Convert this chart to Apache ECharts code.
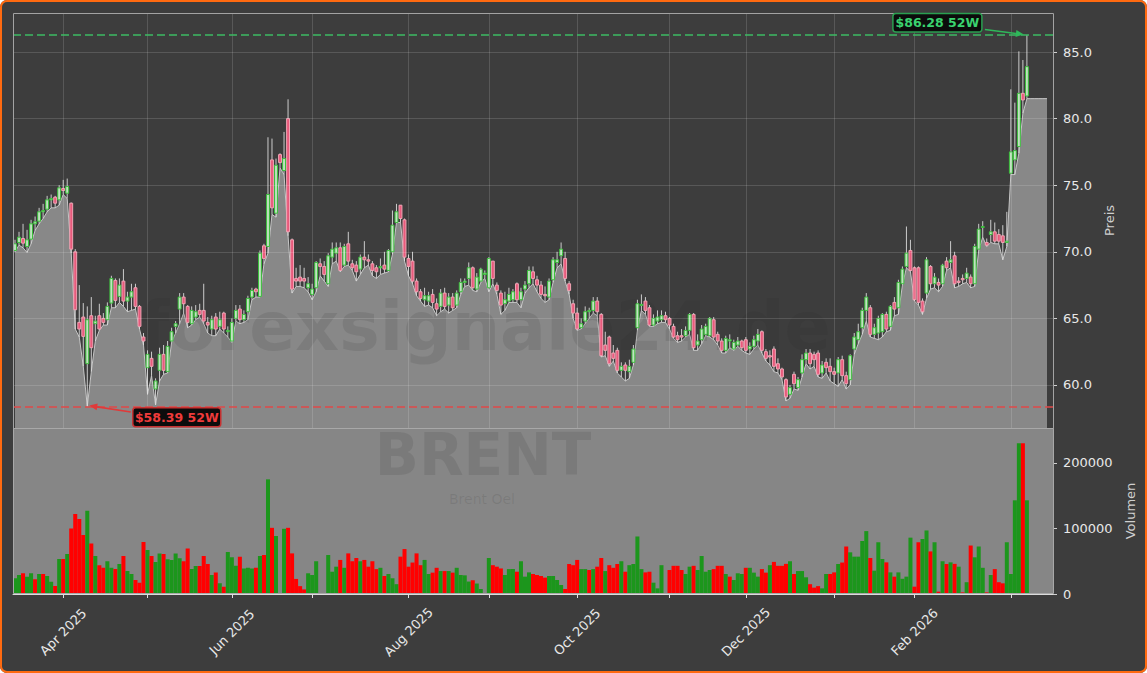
<!DOCTYPE html>
<html>
<head>
<meta charset="utf-8">
<script src="https://cdn.jsdelivr.net/npm/echarts@6/dist/echarts.min.js"></script>
<style>
html,body{margin:0;padding:0;background:#ffffff;}
#wrap{position:relative;width:1147px;height:673px;}
#chart{position:absolute;left:0;top:0;width:1147px;height:673px;background:#3d3d3d;border-radius:7px;overflow:hidden;}
#frame{position:absolute;left:0;top:0;width:1147px;height:673px;box-sizing:border-box;border:2.5px solid #ff6a10;border-radius:7px;pointer-events:none;}
</style>
</head>
<body>
<div id="wrap"><div id="chart"></div><div id="frame"></div></div>
<script>
// ---------------- data ----------------
const opens = [
70.1,70.7,71.0,70.4,70.95,72.1,72.3,73.0,73.2,73.9,
74.1,73.9,74.75,74.4,73.65,70.0,64.7,65.1,61.6,65.2,
64.6,65.2,65.0,64.9,66.15,67.85,66.65,67.8,66.3,66.6,
67.3,65.9,63.6,61.3,62.0,59.7,61.1,62.3,61.0,63.3,
64.4,65.7,66.6,65.9,64.6,65.1,65.6,65.6,64.7,64.2,
65.1,64.4,65.4,64.0,63.3,65.0,65.7,64.9,65.5,66.6,
67.2,66.65,70.45,70.4,76.9,72.9,77.3,76.1,80.0,70.9,
68.0,68.1,68.0,67.3,66.8,67.3,69.1,68.9,67.6,69.6,
69.9,70.3,69.0,70.6,69.1,69.0,68.7,69.6,69.4,69.1,
68.8,68.8,69.0,68.6,70.0,72.2,73.5,72.4,69.5,69.3,
67.8,67.0,66.4,66.3,66.8,66.1,65.9,66.9,66.0,66.6,
66.0,67.0,67.7,68.0,68.8,67.2,67.8,68.3,67.3,69.3,
67.5,66.9,66.1,66.3,66.4,67.6,66.4,67.2,67.6,68.5,
67.9,67.5,66.8,66.6,67.9,69.2,69.7,69.5,67.6,66.1,
65.4,64.3,64.8,65.5,65.6,66.3,65.3,63.0,63.6,62.4,
62.6,61.1,61.5,61.0,61.7,64.3,66.0,66.3,65.8,64.5,
64.8,64.9,65.2,65.0,64.4,63.7,63.7,63.7,64.1,65.3,
63.0,63.4,63.8,63.7,64.9,63.8,63.3,62.6,63.3,62.7,
63.0,63.3,63.4,62.7,62.9,63.3,64.0,62.5,62.2,62.7,
61.6,61.2,60.4,59.3,60.8,59.8,60.9,61.9,62.4,62.3,
62.4,60.9,61.7,61.4,61.0,60.9,61.9,60.7,60.4,62.7,
63.4,64.3,65.6,65.8,63.8,63.9,64.0,65.3,64.4,66.2,
65.8,67.6,68.9,70.1,68.8,68.8,66.3,66.9,68.9,67.6,
67.7,67.6,69.3,69.2,69.7,67.8,68.0,68.0,68.1,67.6,
70.2,71.9,70.7,71.3,71.5,71.3,71.2,70.7,75.9,76.9,
77.9,81.9,81.7
];
const closes = [
70.6,71.1,70.65,70.9,72.1,72.25,73.0,73.1,73.9,74.0,
73.65,74.8,74.6,74.9,70.2,65.65,64.2,63.65,64.9,62.8,
64.8,64.2,64.7,65.9,68.0,66.35,67.5,66.3,66.6,67.0,
65.9,64.4,63.3,62.3,61.4,60.3,62.3,61.1,62.9,64.0,
64.6,66.6,66.1,64.7,65.6,65.5,65.3,64.8,64.5,64.9,
64.2,64.9,64.2,64.1,64.7,65.6,64.9,65.3,66.5,67.1,
67.0,69.9,69.5,74.3,73.3,76.5,76.7,77.0,71.5,67.2,
67.8,67.8,67.8,67.6,67.2,69.2,68.9,68.3,69.7,70.2,
70.3,68.6,70.4,69.3,68.8,68.5,69.6,69.4,69.3,68.6,
68.5,68.9,68.7,70.1,72.0,73.0,72.5,69.6,68.9,67.8,
67.0,66.5,66.7,66.7,66.2,65.7,66.9,65.9,66.6,65.8,
66.9,67.7,67.8,68.8,67.3,68.1,68.7,68.4,69.5,68.0,
67.1,66.0,66.4,66.8,67.0,66.4,67.0,67.5,68.6,68.0,
67.5,66.8,66.7,67.8,69.4,69.4,70.2,68.0,67.1,65.4,
64.2,64.6,65.5,65.6,66.3,65.5,62.2,62.6,61.6,62.0,
61.1,61.4,61.1,61.4,62.7,66.1,66.05,65.6,64.5,65.0,
65.1,65.2,64.9,64.5,63.6,63.4,63.6,64.1,65.3,62.8,
63.3,64.2,64.4,65.0,63.6,63.3,62.6,63.5,63.4,63.2,
63.3,62.8,62.6,62.9,63.4,63.8,62.6,62.0,62.1,61.4,
61.2,60.6,59.1,59.8,60.1,60.4,61.9,62.4,61.6,61.9,
60.8,61.5,61.3,61.0,60.8,61.9,60.7,60.1,62.2,63.6,
64.0,65.6,66.6,63.8,64.3,65.0,65.3,64.2,65.9,65.7,
67.7,68.7,69.9,68.6,66.4,66.2,65.5,69.4,67.6,68.1,
67.5,69.0,68.8,69.4,67.6,67.7,67.9,68.4,67.6,70.4,
71.7,71.9,70.5,71.5,70.8,70.8,70.7,70.8,77.5,77.6,
81.9,81.4,83.9
];
const lows = [
70.0,70.5,70.3,69.95,70.6,71.6,72.1,72.5,73.0,73.3,
73.3,73.5,74.3,74.0,69.9,64.2,63.6,61.4,58.39,61.0,
63.3,64.1,64.5,64.5,65.8,65.8,66.2,65.9,65.5,65.6,
65.7,64.2,63.0,59.3,60.7,58.5,60.3,60.8,60.9,63.2,
63.9,64.6,65.4,64.3,64.5,64.9,65.1,64.6,63.9,63.7,
63.7,64.2,63.9,63.6,63.2,64.8,64.6,64.7,64.9,66.4,
66.6,66.6,69.1,69.9,72.8,72.6,76.3,75.8,71.2,66.9,
67.4,67.4,67.3,67.0,66.4,67.0,68.2,67.8,67.4,69.1,
69.3,68.5,68.9,69.0,68.6,67.8,68.3,68.8,69.0,68.2,
68.0,68.3,68.4,68.5,69.8,72.2,72.2,69.3,68.2,67.6,
66.7,66.3,65.9,66.0,65.8,65.2,65.5,65.7,65.4,65.6,
65.8,66.8,67.4,67.5,67.1,67.0,67.7,68.0,67.0,67.6,
66.8,65.3,65.6,66.2,66.2,66.2,65.8,66.9,67.3,67.6,
67.0,66.5,66.2,66.4,67.7,68.8,69.1,67.8,66.8,65.0,
64.1,64.2,64.6,65.0,65.4,65.2,62.1,62.2,61.4,61.8,
60.9,60.6,60.3,60.5,61.5,64.1,65.6,65.3,64.4,64.4,
64.6,64.7,64.7,64.2,63.5,63.2,63.3,63.6,63.8,62.6,
62.6,63.1,63.7,63.6,63.4,63.0,62.4,62.4,62.8,62.6,
62.9,62.6,62.4,62.3,62.7,63.0,62.4,61.8,61.5,61.0,
60.9,60.4,58.8,59.0,59.7,59.6,60.6,61.6,61.2,61.4,
60.6,60.5,60.9,60.3,60.1,59.9,60.4,59.7,60.0,62.3,
63.1,63.8,64.8,63.6,63.5,63.4,63.6,64.0,64.1,65.2,
65.3,67.5,68.8,68.5,66.3,66.0,65.3,66.5,67.2,67.3,
67.0,67.4,68.6,68.8,67.3,67.4,67.6,67.7,67.3,67.4,
70.1,71.1,70.4,70.7,70.6,70.6,69.4,70.4,75.8,75.8,
77.4,80.4,81.5
];
const highs = [
70.9,71.5,72.1,71.65,72.4,72.65,73.3,73.6,74.2,74.3,
74.2,75.0,75.4,75.5,73.7,70.2,67.5,66.15,65.9,66.6,
65.2,66.1,65.4,66.2,68.2,68.0,68.0,68.7,67.0,67.6,
67.6,66.0,63.9,62.6,62.5,60.5,62.8,63.0,63.3,64.3,
64.8,66.9,66.9,66.0,65.9,66.0,66.1,67.6,65.1,65.2,
65.4,65.5,65.5,64.4,65.0,66.0,66.0,65.6,66.7,67.3,
67.3,70.1,70.6,78.6,78.5,77.0,77.4,79.0,81.45,71.0,
68.8,69.0,68.8,68.1,67.6,69.3,69.5,69.3,69.9,70.7,
70.7,70.7,70.6,71.5,69.4,69.3,69.8,70.8,69.8,69.3,
69.0,69.5,70.0,70.2,73.1,73.6,73.5,72.5,69.8,70.0,
68.0,67.2,67.3,67.0,67.2,66.5,67.2,67.3,66.9,66.9,
67.1,68.0,68.0,69.2,68.9,68.4,68.8,68.6,69.6,69.3,
67.7,67.1,67.0,67.3,67.2,67.7,67.3,67.8,68.9,68.9,
68.2,67.8,67.4,68.0,69.6,70.0,70.7,70.0,67.8,66.4,
65.8,65.0,65.9,65.8,66.6,66.6,65.4,64.0,63.7,63.0,
62.8,61.7,61.7,61.9,63.0,66.4,66.8,66.6,66.0,65.3,
65.6,65.6,65.5,65.1,64.6,64.0,64.2,64.4,65.4,65.4,
63.8,64.5,64.6,65.1,65.1,64.0,63.5,63.7,63.8,63.4,
63.6,63.4,63.6,63.2,63.7,64.2,64.1,62.7,62.6,62.9,
62.0,61.3,60.5,60.0,61.0,60.6,62.3,62.7,62.7,62.5,
62.6,61.8,62.0,62.0,61.3,62.1,62.2,61.0,62.3,63.9,
64.6,65.8,66.9,66.0,64.6,65.2,65.4,65.5,66.0,66.6,
67.9,68.9,71.9,70.9,68.9,68.9,66.5,69.6,69.0,68.4,
68.0,69.1,69.6,70.8,70.0,68.1,68.3,68.8,68.3,70.6,
72.1,72.3,71.0,72.4,72.2,71.7,72.0,73.0,82.2,81.2,
85.05,84.4,86.28
];
// flat part of the low-price fill that continues after the last candle
const fillTail = [81.5,81.5,81.5,81.5,81.5];
const volumes = [
24000,29000,31600,26500,31600,22400,30500,30500,27500,18800,
12200,53400,53400,61000,100000,122000,114500,90000,127000,77000,
58000,44000,40000,50000,40000,38000,45800,58000,35000,30500,
21400,17300,79400,67000,58000,48800,62000,61000,53000,52000,
62000,54500,50000,69600,38000,42700,42700,58000,45800,29000,
33000,16300,11200,64000,56000,43000,57000,39000,40000,39000,
40000,58000,59500,175000,101000,88500,0,99500,101000,62000,
23000,12000,7000,31600,29000,50000,0,0,59500,34000,
41700,52000,40000,62000,50000,55000,50000,52000,41700,50000,
38000,40000,27500,30500,24000,15000,57000,68600,41700,48000,
62000,44000,52000,30500,32600,40000,35000,35000,35000,32600,
40000,29000,28500,19000,21000,16000,7600,0,55000,44000,
41700,39000,29000,38000,38000,34000,50000,26500,33000,30500,
29000,27500,25000,27500,27500,21400,13700,7600,45800,44000,
52000,38000,38000,36600,38000,41700,55000,35000,44000,40000,
45800,50000,34000,44000,45800,87800,38000,33000,34000,17300,
8600,44000,0,36600,43000,43000,36600,30500,41700,43000,
36600,58000,34000,36600,38000,43000,43000,30500,26500,21400,
31600,30500,40000,40000,32600,26500,38000,32600,44000,49000,
43000,43000,46000,50000,30500,35000,35000,25500,15000,9700,
12000,8600,30500,30500,33000,45800,48000,72500,63600,57000,
57000,80900,96000,55000,35600,79000,53400,48300,33000,26500,
33000,23200,26500,86000,11200,79000,84000,97000,65000,79000,
3600,50000,45800,48300,46000,41700,2500,18000,74000,56000,
72500,40000,2500,29000,38000,18000,16300,79000,30500,143000,
230000,230000,143000
];
// g = up-day volume bar (green), r = down-day volume bar (red)
const volDirs =
"ggrggrgrgg" + "rgrgrrrrgr" + "grrggrgrgg" + "rrrgrggrgg" + "ggrrggrrrg" +
"rgrgggrggg" + "rgrgrgggrr" + "rrrggggggg" + "grgrrrgrrr" + "rgrgggrrrr" +
"rrggrrgrgr" + "ggggrggggr" + "rrgggrgggr" + "rrrggggrrr" + "rggrgrrgrr" +
"rgrggggrrg" + "gggrrrrggr" + "ggggrrrgrg" + "ggrgggrrgr" + "rrrgrgggrr" +
"rggrrgrrgg" + "gggrgggrgr" + "ggggrrggrg" + "rgrgrgrgrg" + "ggrgrrrggg" +
"grg";
const priceTicks = [60, 65, 70, 75, 80, 85];
const volumeTicks = [0, 100000, 200000];
const monthTickIdx = [12, 33, 54, 74, 98, 118, 140, 163, 182, 204, 224, 248];
const monthTickLabels = ['Apr 2025', '', 'Jun 2025', '', 'Aug 2025', '', 'Oct 2025', '', 'Dec 2025', '', 'Feb 2026', ''];
const high52 = 86.28, high52Idx = 252;
const low52 = 58.39, low52Idx = 18;
const priceMin = 56.77, priceMax = 87.93;
const volumeMax = 253400;
const N_CATS = 259;

// ---------------- chart ----------------
const cats = [];
for (let i = 0; i < N_CATS; i++) cats.push(String(i));
const tickSet = new Set(monthTickIdx);
const labelMap = {};
monthTickIdx.forEach((idx, k) => { if (monthTickLabels[k]) labelMap[idx] = monthTickLabels[k]; });

const candleData = opens.map((o, i) => [i, o, closes[i], lows[i], highs[i]]);
const GREEN = '#1c961c', RED = '#ff0000';
const volData = volumes.map((v, i) => ({ value: v, itemStyle: { color: volDirs[i] === 'g' ? GREEN : RED } }));

function renderCandle(params, api) {
  const i = api.value(0);
  const o = api.value(1), c = api.value(2), l = api.value(3), h = api.value(4);
  const pTop = api.coord([i, Math.max(o, c)]);
  const pBot = api.coord([i, Math.min(o, c)]);
  const pH = api.coord([i, h]);
  const pL = api.coord([i, l]);
  const band = api.size([1, 0])[0];
  const w = band * 0.72;
  const up = c >= o;
  return {
    type: 'group',
    children: [
      { type: 'line', shape: { x1: pH[0], y1: pH[1], x2: pL[0], y2: pL[1] },
        style: { stroke: 'rgba(220,220,220,0.9)', lineWidth: 1 } },
      { type: 'rect', shape: { x: pTop[0] - w / 2, y: pTop[1], width: w, height: Math.max(pBot[1] - pTop[1], 1) },
        style: { fill: up ? '#c2e2c2' : '#e85a7c', stroke: up ? '#3cbf3c' : '#f0a4b4', lineWidth: 1 } }
    ]
  };
}

const chart = echarts.init(document.getElementById('chart'), null, { renderer: 'svg', width: 1147, height: 673 });

const option = {
  animation: false,
  backgroundColor: 'transparent',
  textStyle: { fontFamily: 'DejaVu Sans' },
  grid: [
    { left: 13, top: 13, width: 1040, height: 415, show: true, backgroundColor: '#3d3d3d', borderWidth: 0, containLabel: false, outerBoundsMode: 'none' },
    { left: 13, top: 428, width: 1040, height: 166, show: true, backgroundColor: '#868686', borderWidth: 0, containLabel: false, outerBoundsMode: 'none' }
  ],
  xAxis: [
    { type: 'category', gridIndex: 0, data: cats, boundaryGap: true,
      axisLine: { show: false }, axisTick: { show: false }, axisLabel: { show: false }, splitLine: { show: false } },
    { type: 'category', gridIndex: 1, data: cats, boundaryGap: true,
      axisLine: { show: true, lineStyle: { color: '#dcdcdc', width: 1 } },
      axisTick: { show: true, alignWithLabel: true, length: 4, interval: (i) => tickSet.has(i), lineStyle: { color: '#e0e0e0' } },
      axisLabel: { show: true, interval: (i) => labelMap[i] !== undefined, formatter: (v, i) => labelMap[i] || '',
        rotate: 45, align: 'center', verticalAlign: 'middle', margin: 38, color: '#e8e8e8', fontSize: 13 },
      splitLine: { show: false } }
  ],
  yAxis: [
    { type: 'value', gridIndex: 0, position: 'right', min: priceMin, max: priceMax,
      axisLine: { show: false },
      axisTick: { show: true, customValues: priceTicks, length: 4, lineStyle: { color: '#d0d0d0' } },
      axisLabel: { customValues: priceTicks, formatter: (v) => Number(v).toFixed(1), color: '#e8e8e8', fontSize: 13, margin: 10 },
      splitLine: { show: false },
      name: 'Preis', nameLocation: 'middle', nameGap: 47, nameRotate: 90,
      nameTextStyle: { color: '#cfcfcf', fontSize: 13 } },
    { type: 'value', gridIndex: 1, position: 'right', min: 0, max: volumeMax,
      axisLine: { show: false },
      axisTick: { show: true, customValues: volumeTicks, length: 4, lineStyle: { color: '#d0d0d0' } },
      axisLabel: { customValues: volumeTicks, formatter: (v) => String(Math.round(v)), color: '#e8e8e8', fontSize: 13, margin: 10 },
      splitLine: { show: false },
      name: 'Volumen', nameLocation: 'middle', nameGap: 67, nameRotate: 90,
      nameTextStyle: { color: '#cfcfcf', fontSize: 13 } }
  ],
  series: [
    { name: 'Tief', type: 'line', xAxisIndex: 0, yAxisIndex: 0, data: lows.concat(fillTail),
      symbol: 'none', silent: true, z: 1,
      lineStyle: { color: '#c6c6c6', width: 1 },
      areaStyle: { color: '#888888', opacity: 1, origin: 'start' } },
    { name: 'grid', type: 'line', xAxisIndex: 0, yAxisIndex: 0, data: [], silent: true, z: 3,
      markLine: { silent: true, symbol: 'none', animation: false, label: { show: false },
        lineStyle: { color: 'rgba(255,255,255,0.14)', width: 1, type: 'solid' },
        data: priceTicks.map(v => ({ yAxis: v })).concat(monthTickIdx.map(i => ({ xAxis: i }))) } },
    { name: 'BRENT', type: 'custom', xAxisIndex: 0, yAxisIndex: 0, data: candleData, z: 4,
      renderItem: renderCandle, encode: { x: 0, y: [1, 2, 3, 4] }, silent: true,
      markLine: { silent: true, symbol: 'none', animation: false, label: { show: false },
        data: [
          { yAxis: high52, lineStyle: { color: '#3dbb63', width: 1.5, type: [8, 4] } },
          { yAxis: low52, lineStyle: { color: '#e04848', width: 1.5, type: [8, 4] } }
        ] } },
    { name: 'Volumen', type: 'bar', xAxisIndex: 1, yAxisIndex: 1, data: volData,
      barCategoryGap: '0%', barGap: '0%', silent: true, z: 2 }
  ]
};
chart.setOption(option);

// ---------------- annotations, watermark, frames ----------------
const hp = chart.convertToPixel({ gridIndex: 0 }, [high52Idx, high52]);
const lp = chart.convertToPixel({ gridIndex: 0 }, [low52Idx, low52]);

function arrowEls(x1, y1, x2, y2, color) {
  const ang = Math.atan2(y2 - y1, x2 - x1), L = 8, W = 3.5;
  const bx = x2 - L * Math.cos(ang), by = y2 - L * Math.sin(ang);
  const px = -Math.sin(ang) * W, py = Math.cos(ang) * W;
  return [
    { type: 'line', z: 10, shape: { x1: x1, y1: y1, x2: bx, y2: by }, style: { stroke: color, lineWidth: 1.6 } },
    { type: 'polygon', z: 10, shape: { points: [[x2, y2], [bx + px, by + py], [bx - px, by - py]] }, style: { fill: color } }
  ];
}
function labelBox(x, y, w, h, text, fg, edge) {
  return [
    { type: 'rect', z: 10, shape: { x: x, y: y, width: w, height: h, r: 3 }, style: { fill: '#0c0c0c', stroke: edge, lineWidth: 1.5 } },
    { type: 'text', z: 11, x: x + w / 2, y: y + h / 2,
      style: { text: text, fill: fg, fontSize: 12.5, fontWeight: 'bold', fontFamily: 'DejaVu Sans', align: 'center', verticalAlign: 'middle' } }
  ];
}

const els = [
  { type: 'text', z: 2, x: 485, y: 326, silent: true,
    style: { text: 'forexsignale24.de', fontSize: 68, fontWeight: 'bold', fontFamily: 'DejaVu Sans',
      fill: 'rgba(40,40,40,0.12)', align: 'center', verticalAlign: 'middle' } },
  { type: 'text', z: 3, x: 483, y: 455, silent: true,
    style: { text: 'BRENT', fontSize: 58, fontWeight: 'bold', fontFamily: 'DejaVu Sans',
      fill: 'rgba(40,40,40,0.12)', align: 'center', verticalAlign: 'middle' } },
  { type: 'text', z: 3, x: 482, y: 499, silent: true,
    style: { text: 'Brent Oel', fontSize: 14, fontFamily: 'DejaVu Sans',
      fill: 'rgba(40,40,40,0.12)', align: 'center', verticalAlign: 'middle' } },
  { type: 'rect', z: 6, silent: true, shape: { x: 13.5, y: 13.5, width: 1040, height: 415 },
    style: { fill: 'none', stroke: '#a3a3a3', lineWidth: 1 } },
  { type: 'rect', z: 6, silent: true, shape: { x: 13.5, y: 428.5, width: 1040, height: 165 },
    style: { fill: 'none', stroke: '#a8a8a8', lineWidth: 1 } }
].concat(
  arrowEls(hp[0] - 42, hp[1] - 5.5, hp[0] - 3, hp[1] - 0.5, '#2fb85a'),
  labelBox(hp[0] - 134, hp[1] - 21.6, 89, 18.7, '$86.28 52W', '#3ad26f', '#2a9f50'),
  arrowEls(lp[0] + 43.5, lp[1] + 5.6, lp[0] + 2, lp[1] - 0.8, '#e03a3a'),
  labelBox(lp[0] + 45.5, lp[1] + 1.3, 88, 19, '$58.39 52W', '#ef3b3b', '#c83232')
);
chart.setOption({ graphic: { elements: els } });
</script>
</body>
</html>
